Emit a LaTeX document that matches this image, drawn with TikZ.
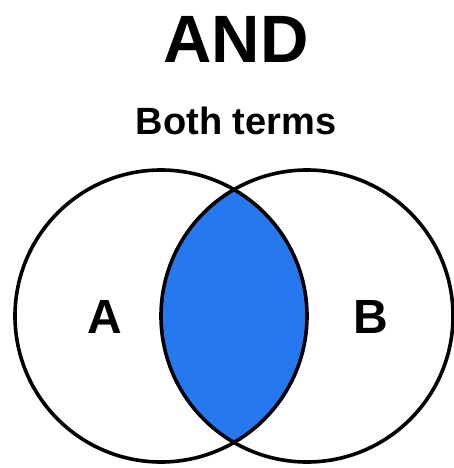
\documentclass[tikz,border=0pt]{standalone}
\usepackage{fontspec}
\setmainfont{Liberation Sans}
\usepackage{xcolor}
\usepackage{tikz}
\usetikzlibrary{positioning,calc}
\definecolor{andblue}{RGB}{38,120,238}

\begin{document}
\begin{tikzpicture}[x=1pt,y=-1pt,
  setc/.style={draw, circle, line width=3.6pt, minimum size=292pt, inner sep=0pt},
  lbl/.style={font=\bfseries\fontsize{48}{48}\selectfont, inner sep=0pt}]
  \useasboundingbox (0,0) rectangle (454,468);
  \node[font=\bfseries\fontsize{67}{67}\selectfont, inner sep=0pt, anchor=base] (title) at (236,63) {AND};
  \node[font=\bfseries\fontsize{38}{38}\selectfont, inner sep=0pt, anchor=base] (sub) at (236,135) {Both terms};
  \coordinate (ca) at (161,316);
  \coordinate (cb) at (307,316);
  \begin{scope}
    \clip (ca) circle[radius=146];
    \fill[andblue] (cb) circle[radius=146];
  \end{scope}
  \node[setc] (setA) at (ca) {};
  \node[setc] (setB) at (cb) {};
  \node[lbl] (la) at (105,317) {A};
  \node[lbl] (lb) at (371,317) {B};
\end{tikzpicture}
\end{document}
